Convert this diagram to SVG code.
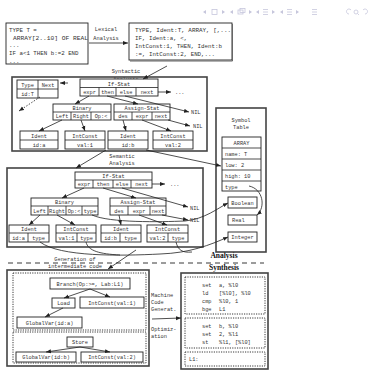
<svg xmlns="http://www.w3.org/2000/svg" width="373" height="370" viewBox="0 0 373 370">
<defs>
<marker id="ah" viewBox="0 0 10 10" refX="10" refY="5" markerWidth="5" markerHeight="5" orient="auto" markerUnits="userSpaceOnUse"><path d="M0,1 L10,5 L0,9 z" fill="#222"/></marker>
<style>
.b{fill:#fff;stroke:#222;stroke-width:0.9}
.o{fill:none;stroke:#444;stroke-width:1.6}
.d{fill:none;stroke:#222;stroke-width:0.9;stroke-dasharray:1.2 1.2}
.l{stroke:#222;stroke-width:0.8;fill:none}
.c{stroke:#222;stroke-width:0.8;fill:none;marker-end:url(#ah)}
text{font-family:"Liberation Mono","DejaVu Sans Mono",monospace;font-size:5.3px;fill:#333}
.m{text-anchor:middle}
.s{font-size:5.8px}
.h{font-family:"Liberation Serif","Times New Roman",serif;font-weight:bold;font-size:7.5px;fill:#111;text-anchor:middle}
.nv{fill:#c6c6dc}
.nvs{fill:none;stroke:#c6c6dc;stroke-width:0.8}
</style>
</defs>
<rect width="373" height="370" fill="#fff"/>

<g id="nav">
<path class="nv" d="M203,12 l3,-2 v4 z"/><rect class="nvs" x="212" y="9.5" width="5" height="5"/><path class="nv" d="M225,12 l-3,-2 v4 z"/>
<path class="nv" d="M230,12 l3,-2 v4 z"/><rect class="nvs" x="238" y="10" width="5" height="4"/><rect class="nvs" x="240" y="8.5" width="5" height="4"/><path class="nv" d="M252,12 l-3,-2 v4 z"/>
<path class="nv" d="M256,12 l3,-2 v4 z"/><path class="nvs" d="M263,9.5h5M263,12h5M263,14.5h5"/><path class="nv" d="M275,12 l-3,-2 v4 z"/>
<path class="nv" d="M280,12 l3,-2 v4 z"/><path class="nvs" d="M287,9.5h5M287,12h5M287,14.5h5"/><path class="nv" d="M299,12 l-3,-2 v4 z"/>
<path class="nvs" d="M312,9.5h5M312,12h5M312,14.5h5"/>
<path class="nvs" d="M349,14 a2.5,2.5 0 1 1 2,-4"/><circle class="nvs" cx="356" cy="12" r="2"/><path class="nvs" d="M357.5,13.5l1.5,1.5"/><path class="nvs" d="M365,14 a2.5,2.5 0 1 0 -2,-4"/>
</g>

<g id="source">
<rect class="b" x="6" y="23" width="82" height="41"/>
<text class="s" x="9" y="32">TYPE  T =</text>
<text class="s" x="13" y="40" textLength="75" lengthAdjust="spacingAndGlyphs">ARRAY[2..10] OF REAL</text>
<text class="s" x="9" y="47">...</text>
<text class="s" x="9" y="55">IF a&lt;1 THEN b:=2 END</text>
<text class="s" x="9" y="62.5">...</text>
</g>

<g id="tokens">
<rect class="b" x="129" y="23" width="103" height="37"/>
<path d="M232.5,24v37h-102.5" stroke="#666" stroke-width="1" fill="none"/>
<text class="s" x="135" y="32" textLength="96" lengthAdjust="spacingAndGlyphs">TYPE, Ident:T, ARRAY, [,...</text>
<text class="s" x="135" y="40">IF, Ident:a, &lt;,</text>
<text class="s" x="135" y="48">IntConst:1, THEN, Ident:b</text>
<text class="s" x="135" y="56">:=, IntConst:2, END,...</text>
</g>

<g id="labels">
<text class="m" x="106" y="31">Lexical</text>
<text class="m" x="106" y="40">Analysis</text>
<text class="m" x="126" y="73">Syntactic</text>
<text class="m" x="126" y="81">Analysis</text>
<text class="m" x="122" y="158">Semantic</text>
<text class="m" x="122" y="165">Analysis</text>
<text class="m" x="75" y="261">Generation of</text>
<text class="m" x="75" y="268">intermediate code</text>
<text x="151" y="297">Machine</text>
<text x="151" y="304">Code</text>
<text x="151" y="311">Generat.</text>
<text x="151" y="331">Optimiz-</text>
<text x="151" y="338">ation</text>
<text class="h" x="224" y="258">Analysis</text>
<text class="h" x="224" y="270">Synthesis</text>
<path d="M8,263H264" stroke="#222" stroke-width="0.9" stroke-dasharray="5 4"/>
</g>

<g id="syntax-tree">
<rect class="o" x="12" y="77" width="195" height="74"/>
<g id="s-type">
<rect class="b" x="17" y="80" width="41" height="18"/>
<path class="l" d="M17,89h41M38,80v18"/>
<text class="m" x="27.5" y="87">Type</text><text class="m" x="48" y="87">Next</text><text class="m" x="27.5" y="96">id:T</text>
</g>
<g id="s-if">
<rect class="b" x="80" y="79" width="78" height="17"/>
<path class="l" d="M80,87.5h78M99,87.5v8.5M116,87.5v8.5M136,87.5v8.5"/>
<text class="m" x="119" y="85.5">If-Stat</text>
<text class="m" x="89.5" y="94.3">expr</text><text class="m" x="107.5" y="94.3">then</text><text class="m" x="126" y="94.3">else</text><text class="m" x="147" y="94.3">next</text>
<text x="175" y="94">...</text>
</g>
<g id="s-binary">
<rect class="b" x="53" y="104" width="58" height="16"/>
<path class="l" d="M53,112h58M71,112v8M91,112v8"/>
<text class="m" x="82" y="110.3">Binary</text>
<text class="m" x="62" y="118.3">Left</text><text class="m" x="81" y="118.3">Right</text><text class="m" x="101" y="118.3">Op:&lt;</text>
</g>
<g id="s-assign">
<rect class="b" x="114" y="104" width="56" height="16"/>
<path class="l" d="M114,112h56M132,112v8M152,112v8"/>
<text class="m" x="142" y="110.3">Assign-Stat</text>
<text class="m" x="123" y="118.3">des</text><text class="m" x="142" y="118.3">expr</text><text class="m" x="161" y="118.3">next</text>
</g>
<g id="s-ident-a"><rect class="b" x="20" y="131" width="38" height="18"/><path class="l" d="M20,140h38"/><text class="m" x="39" y="137.8">Ident</text><text class="m" x="39" y="146.8">id:a</text></g>
<g id="s-int-1"><rect class="b" x="65" y="131" width="40" height="18"/><path class="l" d="M65,140h40"/><text class="m" x="85" y="137.8">IntConst</text><text class="m" x="85" y="146.8">val:1</text></g>
<g id="s-ident-b"><rect class="b" x="108" y="131" width="40" height="18"/><path class="l" d="M108,140h40"/><text class="m" x="128" y="137.8">Ident</text><text class="m" x="128" y="146.8">id:b</text></g>
<g id="s-int-2"><rect class="b" x="153" y="131" width="40" height="18"/><path class="l" d="M153,140h40"/><text class="m" x="173" y="137.8">IntConst</text><text class="m" x="173" y="146.8">val:2</text></g>
<text x="191" y="114">NIL</text>
<text x="193" y="128">NIL</text>
</g>

<g id="semantic-tree">
<rect class="o" x="7" y="168" width="196" height="79"/>
<g id="t-if">
<rect class="b" x="75" y="172" width="77" height="16"/>
<path class="l" d="M75,180h77M93,180v8M113,180v8M131,180v8"/>
<text class="m" x="113.5" y="178.2">If-Stat</text>
<text class="m" x="84" y="186.2">expr</text><text class="m" x="103" y="186.2">then</text><text class="m" x="122" y="186.2">else</text><text class="m" x="141.5" y="186.2">next</text>
<text x="170" y="186">...</text>
</g>
<g id="t-binary">
<rect class="b" x="31" y="198" width="67" height="17"/>
<path class="l" d="M31,206h67M48,206v9M66,206v9M82,206v9"/>
<text class="m" x="64.5" y="204.2">Binary</text>
<text class="m" x="39.5" y="213.2">Left</text><text class="m" x="57" y="213.2">Right</text><text class="m" x="74" y="213.2">Op:&lt;</text><text class="m" x="90" y="213.2">type</text>
</g>
<g id="t-assign">
<rect class="b" x="110" y="198" width="56" height="17"/>
<path class="l" d="M110,206h56M128,206v9M150,206v9"/>
<text class="m" x="138" y="204.2">Assign-Stat</text>
<text class="m" x="119" y="213.2">des</text><text class="m" x="139" y="213.2">expr</text><text class="m" x="158" y="213.2">next</text>
</g>
<g id="t-ident-a"><rect class="b" x="9" y="225" width="40" height="17"/><path class="l" d="M9,233h40M28,233v9"/><text class="m" x="29" y="231.2">Ident</text><text class="m" x="18.5" y="240.2">id:a</text><text class="m" x="38.5" y="240.2">type</text></g>
<g id="t-int-1"><rect class="b" x="56" y="225" width="40" height="17"/><path class="l" d="M56,233h40M77,233v9"/><text class="m" x="76" y="231.2">IntConst</text><text class="m" x="66.5" y="240.2">val:1</text><text class="m" x="86.5" y="240.2">type</text></g>
<g id="t-ident-b"><rect class="b" x="101" y="225" width="40" height="17"/><path class="l" d="M101,233h40M120,233v9"/><text class="m" x="121" y="231.2">Ident</text><text class="m" x="110.5" y="240.2">id:b</text><text class="m" x="130.5" y="240.2">type</text></g>
<g id="t-int-2"><rect class="b" x="147" y="225" width="41" height="17"/><path class="l" d="M147,233h41M168,233v9"/><text class="m" x="167.5" y="231.2">IntConst</text><text class="m" x="157.5" y="240.2">val:2</text><text class="m" x="178" y="240.2">type</text></g>
<text x="190" y="210">NIL</text>
<text x="190" y="222">NIL</text>
</g>

<g id="symbol-table">
<rect class="o" x="216" y="108" width="50" height="144"/>
<text class="m" x="241" y="122">Symbol</text>
<text class="m" x="241" y="129">Table</text>
<rect class="b" x="222" y="137" width="39" height="54"/>
<path class="l" d="M222,148h39M222,159h39M222,170h39M222,181h39"/>
<text class="m" x="241.5" y="145">ARRAY</text>
<text x="225" y="156">name: T</text>
<text x="225" y="167">low:  2</text>
<text x="225" y="178">high: 10</text>
<text x="225" y="188.5">type</text>
<g id="boolean"><rect class="b" x="228" y="197" width="29" height="11"/><text class="m" x="242.5" y="204.5">Boolean</text></g>
<g id="real"><rect class="b" x="228" y="215" width="29" height="10"/><text x="232" y="222">Real</text></g>
<g id="integer"><rect class="b" x="228" y="232" width="29" height="10"/><text class="m" x="242.5" y="239">Integer</text></g>
</g>

<g id="intermediate">
<rect class="o" x="7" y="270" width="142" height="96"/>
<rect class="d" x="13" y="273" width="133" height="57"/>
<rect class="d" x="13" y="332" width="133" height="31"/>
<g id="i-branch"><rect class="b" x="50" y="278" width="80" height="11"/><text class="m" x="90" y="285.5">Branch(Op:&gt;=, Lab:L1)</text></g>
<g id="i-load"><rect class="b" x="52" y="298" width="23" height="10"/><text class="m" x="63.5" y="305">Load</text></g>
<g id="i-int1"><rect class="b" x="80" y="297" width="64" height="11"/><text class="m" x="112" y="304.5">IntConst(val:1)</text></g>
<g id="i-gva"><rect class="b" x="17" y="317" width="65" height="11"/><text class="m" x="49.5" y="324.5">GlobalVar(id:a)</text></g>
<g id="i-store"><rect class="b" x="67" y="337" width="26" height="10"/><text class="m" x="80" y="344">Store</text></g>
<g id="i-gvb"><rect class="b" x="16" y="352" width="60" height="10"/><text class="m" x="46" y="359">GlobalVar(id:b)</text></g>
<g id="i-int2"><rect class="b" x="81" y="352" width="62" height="10"/><text class="m" x="112" y="359">IntConst(val:2)</text></g>
</g>

<g id="machine-code">
<rect class="o" x="181" y="273" width="87" height="96"/>
<rect class="d" x="185" y="277" width="80" height="37"/>
<rect class="d" x="185" y="318" width="80" height="30"/>
<rect class="d" x="185" y="352" width="80" height="14"/>
<text x="202" y="287">set</text><text x="219" y="287">a, %l0</text>
<text x="202" y="295">ld</text><text x="219" y="295">[%l0], %l0</text>
<text x="202" y="303">cmp</text><text x="219" y="303">%l0, 1</text>
<text x="202" y="311">bge</text><text x="219" y="311">L1</text>
<text x="202" y="328">set</text><text x="219" y="328">b, %l0</text>
<text x="202" y="336">set</text><text x="219" y="336">2, %l1</text>
<text x="202" y="344">st</text><text x="219" y="344">%l1, [%l0]</text>
<text x="189" y="361">L1:</text>
</g>

<g id="connectors">
<path class="c" d="M89,43H128"/>
<path class="c" d="M167,66L143,79"/>
<path class="c" d="M68,83H60"/>
<path class="c" d="M40,97L19,111" stroke-dasharray="1.5 1.5"/>
<path class="c" d="M158,92H171"/>
<path class="c" d="M89,96L75,104"/>
<path class="c" d="M107,96L138,104"/>
<path class="c" d="M125,96L189,112"/>
<path class="c" d="M168,120L190,126"/>
<path class="c" d="M62,120L39,131"/>
<path class="c" d="M81,120L85,131"/>
<path class="c" d="M123,120L126,131"/>
<path class="c" d="M142,120L171,131"/>
<path class="c" d="M106,150L76,168"/>
<path class="c" d="M146,150L221,166"/>
<path class="c" d="M152,184H165"/>
<path class="c" d="M84,188L62,198"/>
<path class="c" d="M103,188L136,198"/>
<path class="c" d="M122,188L188,207"/>
<path class="c" d="M162,215L188,220"/>
<path class="c" d="M40,215L29,225"/>
<path class="c" d="M57,215L75,225"/>
<path class="c" d="M119,215L121,225"/>
<path class="c" d="M139,215L167,225"/>
<path class="c" d="M249,186C263,189 266,207 257,215"/>
<path class="c" d="M92,215C110,223 160,222 185,221C205,219 218,208 228,203"/>
<path class="c" d="M40,242C60,257 120,256 160,254C190,253 210,245 228,237"/>
<path class="l" d="M86,242C88,251 100,254 120,255"/>
<path class="l" d="M176,242C178,250 182,253 192,252"/>
<path class="c" d="M136,250L108,269"/>
<path class="c" d="M90,289L64,298"/>
<path class="c" d="M90,289L110,297"/>
<path class="c" d="M63,308L45,317"/>
<path class="c" d="M80,347L46,352"/>
<path class="c" d="M80,347L110,352"/>
<path class="c" d="M152,319L181,318"/>
</g>
</svg>
